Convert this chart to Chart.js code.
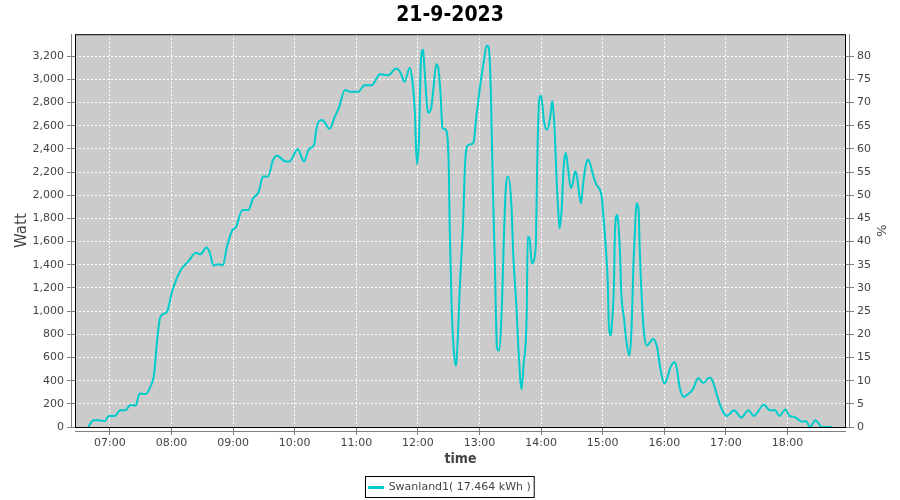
<!DOCTYPE html>
<html>
<head>
<meta charset="utf-8">
<title>21-9-2023</title>
<script src="https://cdn.jsdelivr.net/npm/chart.js@4.4.0/dist/chart.umd.min.js"></script>
<style>
  body { margin: 0; background: #fff; }
</style>
</head>
<body>
<canvas id="grafiek" width="900" height="500"></canvas>
<script>
// Meetmomenten (uu:mm) en vermogen in Watt
const tijden = [
  '06:39','06:44','06:50','06:55','06:59','07:05','07:10','07:15','07:20','07:25',
  '07:29','07:35','07:39','07:43','07:46','07:49','07:54','07:56','08:00','08:05',
  '08:10','08:16','08:24','08:28','08:34','08:37','08:41','08:46','08:50','08:54',
  '08:59','09:03','09:09','09:15','09:19','09:25','09:29','09:34','09:39','09:43',
  '09:51','09:55','10:03','10:09','10:14','10:19','10:21','10:25','10:27','10:34',
  '10:39','10:43','10:49','10:54','11:02','11:08','11:15','11:23','11:31','11:39',
  '11:43','11:47','11:52','11:54','11:57','11:59','12:01','12:03','12:05','12:06',
  '12:10','12:13','12:15','12:18','12:20','12:22','12:24','12:27','12:30','12:31',
  '12:33','12:35','12:37','12:38','12:41','12:44','12:46','12:48','12:50','12:54',
  '12:57','13:00','13:04','13:07','13:09','13:11','13:13','13:15','13:17','13:19',
  '13:22','13:24','13:26','13:28','13:31','13:33','13:36','13:38','13:41','13:43',
  '13:46','13:47','13:49','13:51','13:53','13:55','13:56','13:58','14:00','14:03',
  '14:06','14:09','14:11','14:13','14:15','14:17','14:18','14:20','14:22','14:24',
  '14:26','14:29','14:31','14:33','14:35','14:37','14:39','14:41','14:44','14:46',
  '14:48','14:51','14:54','14:57','14:59','15:01','15:03','15:05','15:06','15:08',
  '15:09','15:11','15:12','15:14','15:15','15:17','15:18','15:21','15:23','15:26',
  '15:28','15:30','15:32','15:33','15:35','15:36','15:38','15:40','15:43','15:46',
  '15:49','15:53','15:56','16:00','16:02','16:06','16:10','16:12','16:15','16:19',
  '16:23','16:28','16:33','16:38','16:44','16:47','16:51','16:56','17:01','17:08',
  '17:15','17:22','17:27','17:37','17:43','17:48','17:52','17:58','18:02','18:07',
  '18:14','18:18','18:22','18:27','18:30','18:33','18:43'
];
const vermogen = [
  0, 58, 58, 50, 95, 95, 145, 145, 190, 185,
  290, 285, 340, 457, 745, 948, 983, 1000, 1150, 1281,
  1368, 1425, 1503, 1490, 1550, 1512, 1394, 1405, 1396, 1555,
  1694, 1729, 1873, 1873, 1966, 2032, 2162, 2162, 2307, 2342,
  2292, 2292, 2400, 2292, 2400, 2437, 2567, 2648, 2648, 2573,
  2677, 2755, 2908, 2894, 2894, 2949, 2949, 3044, 3035, 3093,
  3059, 2978, 3100, 3030, 2726, 2268, 2480, 3174, 3255, 3146,
  2712, 2755, 2914, 3131, 3088, 2885, 2582, 2567, 2278, 1700,
  1006, 659, 529, 616, 1237, 1758, 2278, 2423, 2437, 2452,
  2683, 2900, 3146, 3290, 3275, 2914, 2076, 1411, 688, 659,
  1093, 1700, 2105, 2162, 1931, 1468, 1035, 659, 327, 544,
  977, 1642, 1613, 1411, 1440, 1613, 2162, 2813, 2862, 2625,
  2567, 2683, 2813, 2596, 2162, 1815, 1715, 1873, 2249, 2365,
  2249, 2061, 2105, 2206, 2162, 2018, 1931, 2105, 2278, 2307,
  2264, 2162, 2090, 2053, 1989, 1787, 1555, 1237, 890, 789,
  890, 1237, 1700, 1830, 1787, 1468, 1180, 919, 746, 616,
  833, 1411, 1815, 1931, 1873, 1555, 1121, 833, 702, 731,
  760, 688, 514, 376, 399, 514, 558, 514, 341, 260,
  283, 327, 422, 379, 428, 399, 283, 153, 95, 145,
  81, 145, 95, 191, 145, 145, 95, 150, 95, 87,
  46, 52, 0, 58, 35, 0, 0
];
const uurLabels = ['07:00','08:00','09:00','10:00','11:00','12:00',
                   '13:00','14:00','15:00','16:00','17:00','18:00'];
const wattTicks = [0, 200, 400, 600, 800, 1000, 1200, 1400, 1600, 1800,
                   2000, 2200, 2400, 2600, 2800, 3000, 3200];
const procentTicks = [0, 5, 10, 15, 20, 25, 30, 35, 40, 45, 50, 55, 60, 65, 70, 75, 80];
const titel = '21-9-2023';
const reeksNaam = 'Swanland1( 17.464 kWh )';

// hulpfuncties
function naarMinuten(t) {
  const [u, m] = t.split(':').map(Number);
  return u * 60 + m;
}
function naarTijd(min) {
  const u = Math.floor(min / 60), m = Math.round(min % 60);
  return String(u).padStart(2, '0') + ':' + String(m).padStart(2, '0');
}

const punten = tijden.map((t, i) => ({ x: naarMinuten(t), y: vermogen[i] }));

const tekstKleur = '#444444';
const lettertype = { family: 'DejaVu Sans', size: 11 };

// achtergrond en kader van het plotgebied
const plotKader = {
  id: 'plotKader',
  beforeDraw(chart) {
    const a = chart.chartArea, ctx = chart.ctx;
    ctx.save();
    ctx.fillStyle = '#cbcbcb';
    ctx.fillRect(a.left, a.top, a.right - a.left, a.bottom - a.top);
    ctx.restore();
  },
  afterDraw(chart) {
    const a = chart.chartArea, ctx = chart.ctx;
    ctx.save();
    ctx.strokeStyle = '#000';
    ctx.lineWidth = 1;
    ctx.strokeRect(a.left + 0.5, a.top + 0.5, a.right - a.left - 1, a.bottom - a.top);
    // grijze aslijnen iets los van het plotgebied
    ctx.strokeStyle = '#808080';
    ctx.beginPath();
    ctx.moveTo(a.left - 3.5, a.top); ctx.lineTo(a.left - 3.5, a.bottom);
    ctx.moveTo(a.right + 3.5, a.top); ctx.lineTo(a.right + 3.5, a.bottom);
    ctx.moveTo(a.left, a.bottom + 4.5); ctx.lineTo(a.right, a.bottom + 4.5);
    ctx.stroke();
    // kader om de legenda
    const hb = chart.legend.legendHitBoxes[0];
    if (hb) {
      ctx.strokeStyle = '#000';
      ctx.strokeRect(Math.round(hb.left) - 3.5, Math.round(hb.top) - 5.5, hb.width + 7, hb.height + 10);
    }
    ctx.restore();
  }
};

const rasterLijn = {
  color: '#ffffff',
  tickColor: '#808080',
  tickBorderDash: [],
  tickLength: 8
};

new Chart(document.getElementById('grafiek'), {
  type: 'line',
  data: {
    datasets: [{
      label: reeksNaam,
      data: punten,
      borderColor: '#00cccc',
      backgroundColor: '#00cccc',
      borderWidth: 2,
      pointRadius: 0,
      tension: 0.3,
      cubicInterpolationMode: 'monotone',
      yAxisID: 'y'
    }]
  },
  options: {
    responsive: false,
    animation: false,
    layout: { padding: { top: 2, bottom: -3 } },
    plugins: {
      title: {
        display: true,
        text: titel,
        color: '#000',
        font: { family: 'DejaVu Sans Condensed', size: 21, weight: 'bold' },
        padding: { top: 1, bottom: 6 }
      },
      legend: {
        position: 'bottom',
        labels: {
          color: tekstKleur,
          font: lettertype,
          boxWidth: 14,
          boxHeight: 1,
          padding: 9
        }
      },
      tooltip: { enabled: false }
    },
    scales: {
      x: {
        type: 'linear',
        min: 386,
        max: 1137,
        afterBuildTicks(scale) {
          scale.ticks = uurLabels.map(l => ({ value: naarMinuten(l) }));
        },
        afterFit(scale) { scale.height = 46; },
        ticks: {
          color: tekstKleur,
          font: lettertype,
          padding: 2,
          maxRotation: 0,
          callback: v => naarTijd(v)
        },
        grid: rasterLijn,
        border: { display: false, dash: [2, 2] },
        title: {
          display: true,
          text: 'time',
          color: tekstKleur,
          font: { family: 'DejaVu Sans Condensed', size: 14, weight: 'bold' },
          padding: { top: 0, bottom: 5 }
        }
      },
      y: {
        position: 'left',
        min: 0,
        max: 3390,
        afterBuildTicks(scale) {
          scale.ticks = wattTicks.map(v => ({ value: v }));
        },
        afterFit(scale) { scale.width = 75; },
        ticks: {
          color: tekstKleur,
          font: lettertype,
          padding: 3,
          callback: v => v.toLocaleString('en-US')
        },
        grid: rasterLijn,
        border: { display: false, dash: [2, 2] },
        title: {
          display: true,
          text: 'Watt',
          color: tekstKleur,
          font: { family: 'DejaVu Sans', size: 15 },
          padding: { top: 13, bottom: 0 }
        }
      },
      y2: {
        position: 'right',
        min: 0,
        max: 84.75,
        afterBuildTicks(scale) {
          scale.ticks = procentTicks.map(v => ({ value: v }));
        },
        afterFit(scale) { scale.width = 54; },
        ticks: {
          color: tekstKleur,
          font: lettertype,
          padding: 3
        },
        grid: {
          drawOnChartArea: false,
          tickColor: '#808080',
          tickLength: 8
        },
        border: { display: false },
        title: {
          display: true,
          text: '%',
          color: tekstKleur,
          font: { family: 'DejaVu Sans', size: 13 },
          padding: { top: 12, bottom: 0 }
        }
      }
    }
  },
  plugins: [plotKader]
});
</script>
</body>
</html>
